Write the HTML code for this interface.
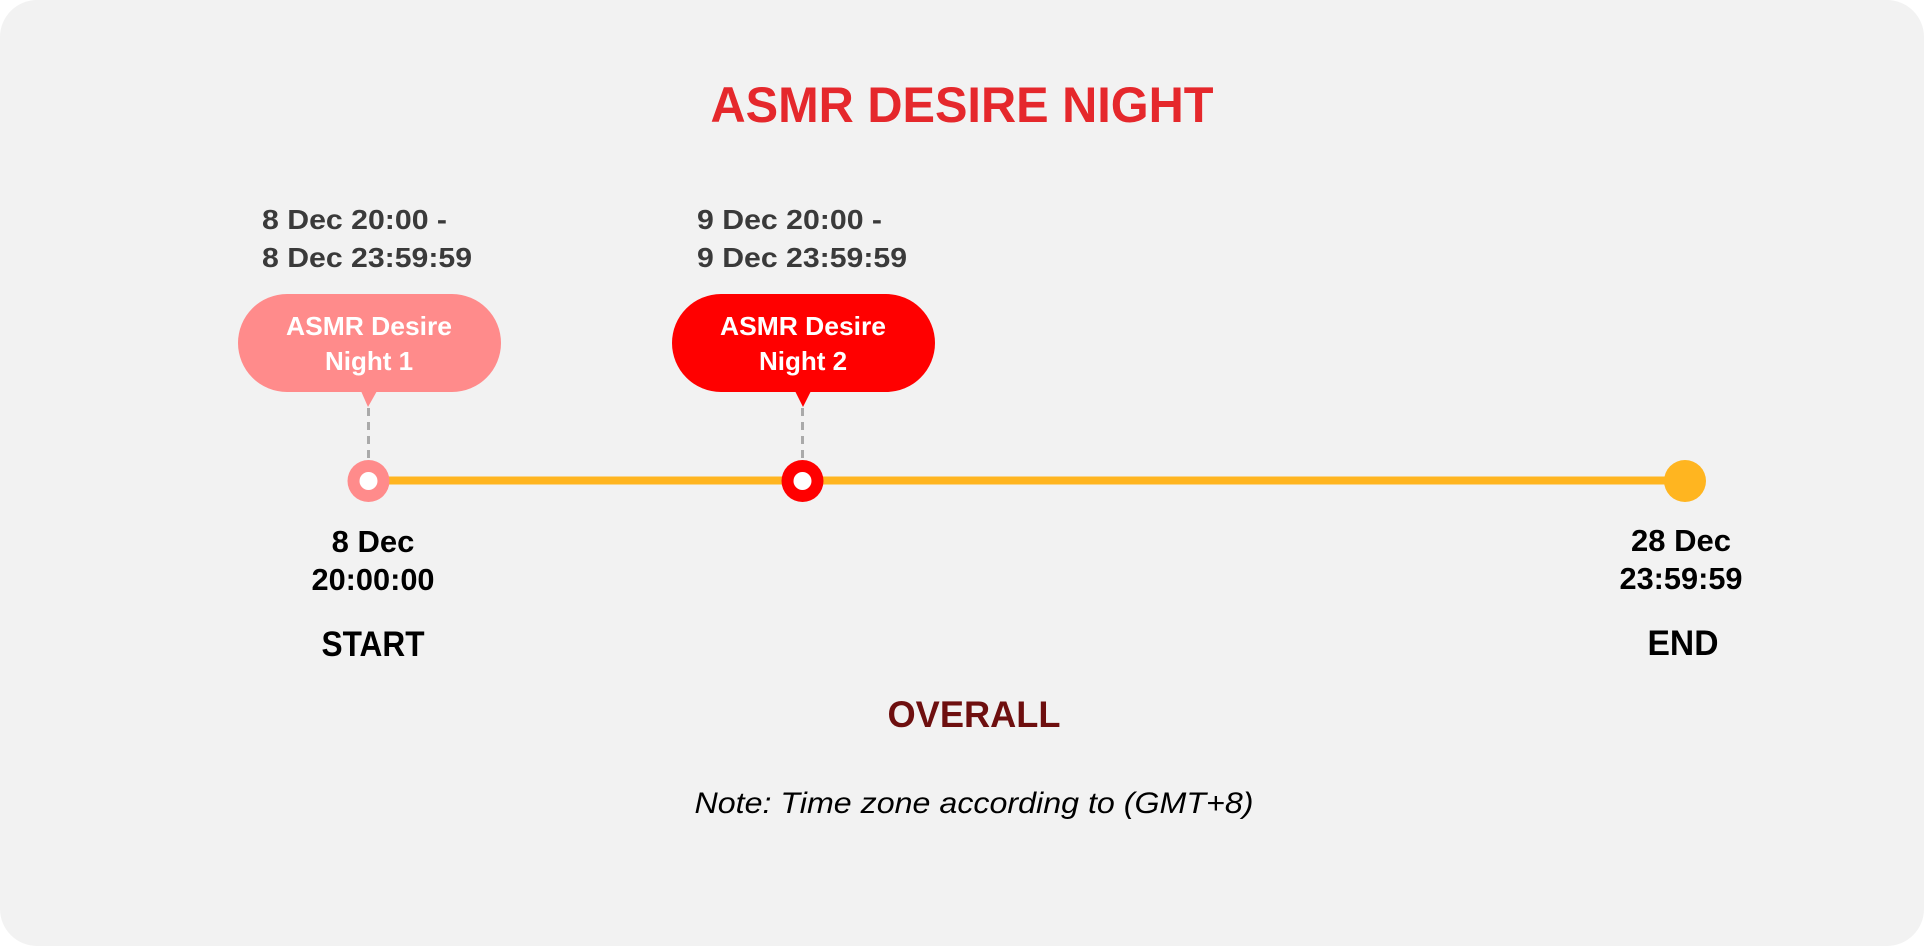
<!DOCTYPE html>
<html><head><meta charset="utf-8"><style>
html,body{margin:0;padding:0;background:#fff;}
svg{display:block;}
text{font-family:"Liberation Sans",sans-serif;}
</style></head><body>
<svg width="1924" height="946" viewBox="0 0 1924 946" xmlns="http://www.w3.org/2000/svg">
<rect x="0" y="0" width="1924" height="946" rx="37" fill="#f2f2f2"/>
<text x="962" y="122" text-anchor="middle" font-size="50" font-weight="bold" fill="#e5282c" textLength="503" lengthAdjust="spacingAndGlyphs">ASMR DESIRE NIGHT</text>

<g font-size="28" font-weight="bold" fill="#3a3a3a">
<text x="262" y="229" textLength="185" lengthAdjust="spacingAndGlyphs">8 Dec 20:00 -</text>
<text x="262" y="267" textLength="210" lengthAdjust="spacingAndGlyphs">8 Dec 23:59:59</text>
<text x="697" y="229" textLength="185" lengthAdjust="spacingAndGlyphs">9 Dec 20:00 -</text>
<text x="697" y="267" textLength="210" lengthAdjust="spacingAndGlyphs">9 Dec 23:59:59</text>
</g>

<rect x="238" y="294" width="263" height="98" rx="49" fill="#ff8b8b"/>
<polygon points="361,391 377,391 368,407" fill="#ff8b8b"/>
<rect x="672" y="294" width="263" height="98" rx="49" fill="#ff0000"/>
<polygon points="795,391 811,391 803,407" fill="#ff0000"/>
<g font-size="26" font-weight="bold" fill="#fff" text-anchor="middle">
<text x="369" y="335" textLength="166" lengthAdjust="spacingAndGlyphs">ASMR Desire</text>
<text x="369" y="370">Night 1</text>
<text x="803" y="335" textLength="166" lengthAdjust="spacingAndGlyphs">ASMR Desire</text>
<text x="803" y="370">Night 2</text>
</g>

<line x1="368.5" y1="408" x2="368.5" y2="462" stroke="#aaaaaa" stroke-width="3" stroke-dasharray="8,6"/>
<line x1="802.5" y1="408" x2="802.5" y2="462" stroke="#aaaaaa" stroke-width="3" stroke-dasharray="8,6"/>

<line x1="368" y1="480.5" x2="1685" y2="480.5" stroke="#ffb520" stroke-width="8"/>
<circle cx="368.5" cy="481" r="21" fill="#ff8b8b"/>
<circle cx="368.5" cy="481" r="9" fill="#fff"/>
<circle cx="802.5" cy="481" r="21" fill="#ff0000"/>
<circle cx="802.5" cy="481" r="9" fill="#fff"/>
<circle cx="1685" cy="481" r="21" fill="#ffb520"/>

<g font-weight="bold" fill="#000" text-anchor="middle">
<text x="373" y="552" font-size="31">8 Dec</text>
<text x="373" y="590" font-size="31" textLength="123" lengthAdjust="spacingAndGlyphs">20:00:00</text>
<text x="373" y="656" font-size="35" textLength="103" lengthAdjust="spacingAndGlyphs">START</text>
<text x="1681" y="551" font-size="31">28 Dec</text>
<text x="1681" y="589" font-size="31" textLength="123" lengthAdjust="spacingAndGlyphs">23:59:59</text>
<text x="1683" y="655" font-size="35" textLength="71" lengthAdjust="spacingAndGlyphs">END</text>
</g>

<text x="974" y="727" text-anchor="middle" font-size="37" font-weight="bold" fill="#6e0f0f" textLength="173" lengthAdjust="spacingAndGlyphs">OVERALL</text>
<text x="974" y="813" text-anchor="middle" font-size="30" font-style="italic" fill="#000" textLength="559" lengthAdjust="spacingAndGlyphs">Note: Time zone according to (GMT+8)</text>
</svg>
</body></html>
